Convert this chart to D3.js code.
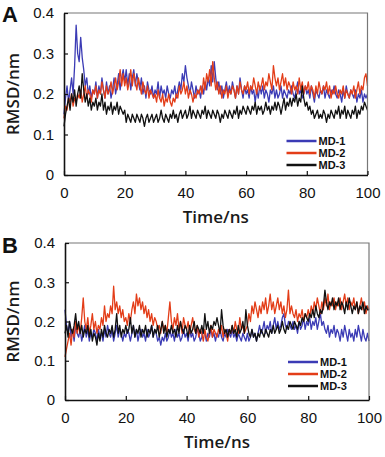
<!DOCTYPE html>
<html>
<head>
<meta charset="utf-8">
<script src="https://cdn.jsdelivr.net/npm/d3@7/dist/d3.min.js"></script>
<style>
  html, body { margin: 0; padding: 0; background: #fff; }
  svg { display: block; }
  .tick text { font-family: "Liberation Sans", Arial, sans-serif; font-size: 15px; fill: #111; }
  .axis-title { font-family: "Open Sans", "Noto Sans", sans-serif; font-size: 17px; font-weight: 600; fill: #1a1a1a; }
  .panel-label { font-family: "Liberation Sans", Arial, sans-serif; font-size: 22px; font-weight: bold; fill: #111; }
  .legend text { font-family: "Liberation Sans", Arial, sans-serif; font-size: 11px; font-weight: bold; fill: #111; }
</style>
</head>
<body>
<svg id="chart" width="385" height="457"></svg>
<script>
// time axis, one frame every 0.5 ns
var timeNs = d3.range(201).map(function(i) { return i * 0.5; });

var seriesNames = ["MD-1", "MD-2", "MD-3"];
var seriesColors = ["#3b3bb5", "#e33d18", "#111111"];

var xTicks = [0, 20, 40, 60, 80, 100];
var yTicks = [0, 0.1, 0.2, 0.3, 0.4];

// panel A, RMSD in nm
var rmsdA1 = [
  0.15,0.19,0.22,0.18,0.21,0.24,0.20,0.27,0.37,0.30, 0.28,0.34,0.29,0.26,0.22,0.24,0.20,0.22,0.19,0.21,
  0.20,0.23,0.19,0.22,0.20,0.24,0.21,0.19,0.23,0.20, 0.22,0.19,0.21,0.24,0.20,0.22,0.25,0.21,0.24,0.26,
  0.23,0.26,0.22,0.25,0.21,0.24,0.26,0.22,0.25,0.23, 0.21,0.24,0.20,0.22,0.19,0.23,0.21,0.20,0.22,0.19,
  0.21,0.20,0.23,0.19,0.22,0.20,0.21,0.19,0.22,0.20, 0.19,0.21,0.20,0.22,0.19,0.21,0.23,0.21,0.25,0.23,
  0.27,0.24,0.22,0.20,0.23,0.21,0.19,0.22,0.20,0.21, 0.19,0.22,0.20,0.23,0.21,0.24,0.22,0.27,0.23,0.28,
  0.24,0.21,0.23,0.20,0.22,0.19,0.21,0.23,0.20,0.22, 0.20,0.23,0.21,0.19,0.22,0.20,0.24,0.21,0.19,0.22,
  0.20,0.21,0.19,0.22,0.20,0.21,0.18,0.21,0.19,0.22, 0.20,0.22,0.19,0.21,0.20,0.18,0.21,0.20,0.22,0.19,
  0.21,0.19,0.20,0.22,0.19,0.21,0.20,0.19,0.21,0.20, 0.22,0.20,0.19,0.21,0.23,0.20,0.21,0.19,0.20,0.22,
  0.20,0.21,0.19,0.22,0.20,0.18,0.21,0.20,0.19,0.21, 0.20,0.22,0.19,0.21,0.20,0.19,0.21,0.20,0.22,0.20,
  0.19,0.21,0.20,0.18,0.21,0.19,0.22,0.20,0.19,0.21, 0.20,0.19,0.21,0.18,0.20,0.19,0.21,0.18,0.20,0.19,
  0.20
];
var rmsdA2 = [
  0.14,0.17,0.16,0.19,0.18,0.20,0.17,0.19,0.18,0.20, 0.19,0.21,0.18,0.20,0.22,0.19,0.21,0.20,0.18,0.21,
  0.20,0.22,0.19,0.21,0.20,0.23,0.21,0.19,0.22,0.20, 0.21,0.23,0.20,0.22,0.24,0.21,0.23,0.26,0.22,0.25,
  0.22,0.24,0.21,0.23,0.26,0.22,0.25,0.23,0.21,0.24, 0.22,0.20,0.23,0.21,0.20,0.22,0.19,0.21,0.20,0.19,
  0.20,0.18,0.21,0.19,0.18,0.20,0.17,0.19,0.18,0.20, 0.18,0.17,0.19,0.18,0.20,0.19,0.22,0.20,0.21,0.23,
  0.20,0.22,0.19,0.21,0.20,0.18,0.20,0.19,0.21,0.20, 0.22,0.20,0.24,0.21,0.25,0.23,0.26,0.22,0.28,0.24,
  0.21,0.23,0.20,0.22,0.19,0.21,0.20,0.22,0.19,0.21, 0.20,0.22,0.21,0.19,0.22,0.20,0.23,0.21,0.20,0.22,
  0.21,0.23,0.20,0.22,0.21,0.24,0.22,0.20,0.23,0.21, 0.22,0.24,0.21,0.23,0.22,0.25,0.23,0.21,0.27,0.24,
  0.22,0.24,0.21,0.23,0.25,0.22,0.24,0.21,0.23,0.22, 0.20,0.23,0.21,0.22,0.20,0.24,0.21,0.23,0.20,0.22,
  0.21,0.23,0.20,0.22,0.21,0.19,0.22,0.20,0.23,0.21, 0.20,0.22,0.21,0.23,0.20,0.22,0.19,0.21,0.20,0.22,
  0.20,0.19,0.21,0.20,0.22,0.19,0.21,0.20,0.19,0.21, 0.20,0.22,0.19,0.21,0.23,0.20,0.22,0.21,0.24,0.25,
  0.22
];
var rmsdA3 = [
  0.12,0.15,0.17,0.19,0.16,0.20,0.18,0.21,0.17,0.20, 0.22,0.19,0.25,0.21,0.18,0.20,0.17,0.19,0.16,0.18,
  0.17,0.19,0.16,0.18,0.17,0.20,0.16,0.18,0.15,0.17, 0.16,0.18,0.15,0.17,0.16,0.18,0.15,0.17,0.16,0.15,
  0.16,0.13,0.15,0.14,0.13,0.15,0.14,0.13,0.15,0.14, 0.13,0.15,0.14,0.12,0.14,0.15,0.13,0.14,0.15,0.13,
  0.14,0.15,0.13,0.14,0.16,0.14,0.13,0.15,0.14,0.13, 0.15,0.14,0.16,0.14,0.15,0.13,0.15,0.16,0.14,0.15,
  0.16,0.14,0.15,0.17,0.14,0.16,0.15,0.14,0.16,0.15, 0.14,0.16,0.15,0.17,0.14,0.16,0.15,0.14,0.16,0.15,
  0.14,0.16,0.15,0.13,0.15,0.14,0.16,0.15,0.14,0.16, 0.15,0.14,0.16,0.15,0.17,0.14,0.16,0.15,0.17,0.16,
  0.15,0.17,0.16,0.15,0.17,0.16,0.18,0.15,0.17,0.16, 0.17,0.15,0.16,0.18,0.16,0.17,0.15,0.17,0.16,0.18,
  0.16,0.18,0.17,0.15,0.17,0.19,0.16,0.18,0.17,0.19, 0.17,0.19,0.18,0.20,0.17,0.19,0.18,0.22,0.19,0.17,
  0.18,0.16,0.17,0.15,0.16,0.14,0.15,0.16,0.14,0.15, 0.14,0.16,0.15,0.13,0.15,0.14,0.16,0.15,0.14,0.16,
  0.15,0.17,0.14,0.16,0.15,0.17,0.14,0.16,0.15,0.14, 0.16,0.15,0.17,0.14,0.16,0.15,0.17,0.16,0.18,0.17,
  0.16
];

// panel B, RMSD in nm
var rmsdB1 = [
  0.23,0.19,0.17,0.20,0.16,0.18,0.15,0.19,0.17,0.16, 0.18,0.15,0.17,0.19,0.16,0.18,0.15,0.17,0.16,0.18,
  0.17,0.15,0.18,0.16,0.17,0.15,0.18,0.16,0.19,0.17, 0.16,0.18,0.15,0.17,0.19,0.16,0.18,0.17,0.15,0.17,
  0.16,0.18,0.17,0.15,0.17,0.19,0.16,0.18,0.15,0.17, 0.18,0.16,0.17,0.15,0.18,0.16,0.17,0.19,0.16,0.18,
  0.17,0.15,0.16,0.14,0.16,0.15,0.17,0.15,0.16,0.18, 0.16,0.17,0.15,0.18,0.16,0.17,0.15,0.16,0.18,0.16,
  0.17,0.15,0.18,0.16,0.17,0.15,0.16,0.18,0.17,0.15, 0.16,0.18,0.17,0.15,0.17,0.16,0.18,0.16,0.17,0.15,
  0.17,0.16,0.18,0.16,0.15,0.17,0.16,0.18,0.17,0.16, 0.18,0.16,0.17,0.15,0.17,0.16,0.15,0.17,0.16,0.15,
  0.17,0.15,0.16,0.18,0.16,0.17,0.15,0.17,0.19,0.17, 0.18,0.20,0.17,0.19,0.18,0.20,0.17,0.19,0.21,0.18,
  0.20,0.18,0.19,0.21,0.22,0.19,0.18,0.20,0.19,0.18, 0.20,0.18,0.19,0.17,0.20,0.18,0.19,0.21,0.18,0.20,
  0.19,0.21,0.18,0.20,0.19,0.21,0.18,0.20,0.22,0.19, 0.20,0.18,0.17,0.19,0.16,0.18,0.17,0.19,0.16,0.18,
  0.17,0.15,0.18,0.16,0.19,0.17,0.15,0.18,0.16,0.17, 0.15,0.18,0.16,0.19,0.17,0.15,0.18,0.16,0.15,0.17,
  0.15
];
var rmsdB2 = [
  0.11,0.13,0.15,0.17,0.14,0.18,0.16,0.20,0.17,0.19, 0.17,0.21,0.26,0.20,0.18,0.21,0.17,0.19,0.22,0.18,
  0.20,0.17,0.19,0.18,0.21,0.19,0.24,0.20,0.22,0.21, 0.24,0.22,0.29,0.23,0.25,0.22,0.24,0.21,0.23,0.20,
  0.21,0.19,0.22,0.20,0.23,0.25,0.22,0.27,0.24,0.26, 0.23,0.25,0.22,0.24,0.21,0.23,0.20,0.22,0.19,0.21,
  0.20,0.18,0.19,0.17,0.20,0.18,0.19,0.17,0.21,0.25, 0.20,0.18,0.21,0.19,0.22,0.18,0.20,0.17,0.21,0.19,
  0.18,0.20,0.17,0.19,0.21,0.18,0.17,0.19,0.16,0.18, 0.17,0.15,0.18,0.16,0.15,0.17,0.19,0.16,0.18,0.17,
  0.16,0.18,0.17,0.19,0.16,0.18,0.17,0.15,0.18,0.17, 0.19,0.17,0.20,0.18,0.17,0.21,0.18,0.19,0.17,0.18,
  0.19,0.22,0.20,0.24,0.22,0.25,0.23,0.21,0.24,0.22, 0.25,0.23,0.26,0.22,0.24,0.27,0.23,0.25,0.22,0.24,
  0.26,0.23,0.25,0.22,0.24,0.21,0.23,0.28,0.22,0.24, 0.22,0.21,0.23,0.20,0.22,0.21,0.23,0.20,0.22,0.21,
  0.23,0.21,0.24,0.22,0.25,0.23,0.26,0.24,0.22,0.25, 0.23,0.26,0.24,0.27,0.23,0.25,0.24,0.26,0.23,0.25,
  0.24,0.26,0.23,0.25,0.27,0.24,0.26,0.23,0.25,0.24, 0.26,0.23,0.25,0.22,0.24,0.26,0.23,0.25,0.22,0.24,
  0.23
];
var rmsdB3 = [
  0.17,0.19,0.16,0.20,0.18,0.17,0.19,0.22,0.18,0.20, 0.17,0.19,0.16,0.18,0.17,0.19,0.16,0.18,0.15,0.17,
  0.16,0.14,0.17,0.15,0.18,0.16,0.19,0.17,0.16,0.18, 0.17,0.19,0.16,0.18,0.22,0.17,0.19,0.16,0.18,0.17,
  0.19,0.17,0.18,0.21,0.17,0.19,0.16,0.18,0.17,0.19, 0.16,0.18,0.17,0.19,0.16,0.18,0.17,0.19,0.16,0.18,
  0.17,0.19,0.16,0.18,0.20,0.17,0.19,0.16,0.18,0.17, 0.19,0.17,0.18,0.16,0.19,0.17,0.20,0.18,0.17,0.19,
  0.18,0.16,0.19,0.17,0.18,0.20,0.17,0.19,0.18,0.17, 0.19,0.17,0.22,0.18,0.20,0.17,0.19,0.18,0.20,0.19,
  0.21,0.19,0.17,0.23,0.19,0.17,0.18,0.16,0.18,0.17, 0.19,0.17,0.18,0.16,0.19,0.17,0.18,0.20,0.17,0.23,
  0.19,0.17,0.16,0.18,0.16,0.17,0.15,0.17,0.16,0.18, 0.17,0.16,0.18,0.17,0.16,0.18,0.17,0.19,0.17,0.18,
  0.19,0.17,0.18,0.20,0.18,0.17,0.19,0.18,0.20,0.19, 0.18,0.20,0.19,0.18,0.20,0.19,0.21,0.20,0.22,0.21,
  0.20,0.22,0.21,0.23,0.21,0.24,0.22,0.21,0.23,0.22, 0.24,0.28,0.25,0.23,0.25,0.24,0.26,0.23,0.25,0.24,
  0.26,0.23,0.25,0.24,0.22,0.25,0.23,0.26,0.24,0.22, 0.24,0.23,0.25,0.22,0.24,0.23,0.25,0.22,0.24,0.23,
  0.23
];

var svg = d3.select("#chart");

function drawPanel(p) {
    var x = d3.scaleLinear().domain([0, 100]).range([p.left, p.right]);
    var y = d3.scaleLinear().domain([0, 0.4]).range([p.bottom, p.top]);

    var g = svg.append("g");

    // lines first, frame over them
    var line = d3.line()
        .x(function(d, i) { return x(timeNs[i]); })
        .y(function(d) { return y(d); });

    p.series.forEach(function(s, k) {
        g.append("path")
            .datum(s)
            .attr("fill", "none")
            .attr("stroke", seriesColors[k])
            .attr("stroke-width", 1.3)
            .attr("stroke-linejoin", "round")
            .attr("d", line);
    });

    // top and right border in grey
    g.append("path")
        .attr("d", "M" + p.left + "," + p.top + "H" + p.right + "V" + p.bottom)
        .attr("fill", "none")
        .attr("stroke", "#777")
        .attr("stroke-width", 1.2);

    var xAxis = g.append("g")
        .attr("transform", "translate(0," + p.bottom + ")")
        .call(d3.axisBottom(x).tickValues(xTicks).tickSize(-4).tickSizeOuter(0).tickPadding(12));
    var yAxis = g.append("g")
        .attr("transform", "translate(" + p.left + ",0)")
        .call(d3.axisLeft(y).tickValues(yTicks).tickSize(-4).tickSizeOuter(0).tickPadding(10)
            .tickFormat(function(d) { return d === 0 ? "0" : d3.format(".1f")(d); }));

    [xAxis, yAxis].forEach(function(a) {
        a.select(".domain").attr("stroke", "#111").attr("stroke-width", 1.6);
        a.selectAll(".tick line").attr("stroke", "#111").attr("stroke-width", 1.2);
        a.attr("font-family", null).attr("font-size", null);
    });

    g.append("text")
        .attr("class", "axis-title")
        .attr("x", (p.left + p.right) / 2)
        .attr("y", p.bottom + 48)
        .attr("text-anchor", "middle")
        .text("Time/ns");

    g.append("text")
        .attr("class", "axis-title")
        .attr("transform", "translate(19," + ((p.top + p.bottom) / 2) + ") rotate(-90)")
        .attr("text-anchor", "middle")
        .text("RMSD/nm");

    g.append("text")
        .attr("class", "panel-label")
        .attr("x", 2)
        .attr("y", p.top + p.labelDy)
        .text(p.label);

    // legend
    var lg = g.append("g").attr("class", "legend");
    seriesNames.forEach(function(name, k) {
        var ly = p.legendTop + k * 12;
        lg.append("line")
            .attr("x1", p.right - 81).attr("x2", p.right - 51)
            .attr("y1", ly).attr("y2", ly)
            .attr("stroke", seriesColors[k])
            .attr("stroke-width", 2.5);
        lg.append("text")
            .attr("x", p.right - 49)
            .attr("y", ly + 4)
            .text(name);
    });
}

drawPanel({ label: "A", top: 13, bottom: 175, left: 64, right: 367.5, labelDy: 9,
            legendTop: 141, series: [rmsdA1, rmsdA2, rmsdA3] });
drawPanel({ label: "B", top: 243, bottom: 400, left: 65, right: 369, labelDy: 10,
            legendTop: 362, series: [rmsdB1, rmsdB2, rmsdB3] });
</script>
</body>
</html>
